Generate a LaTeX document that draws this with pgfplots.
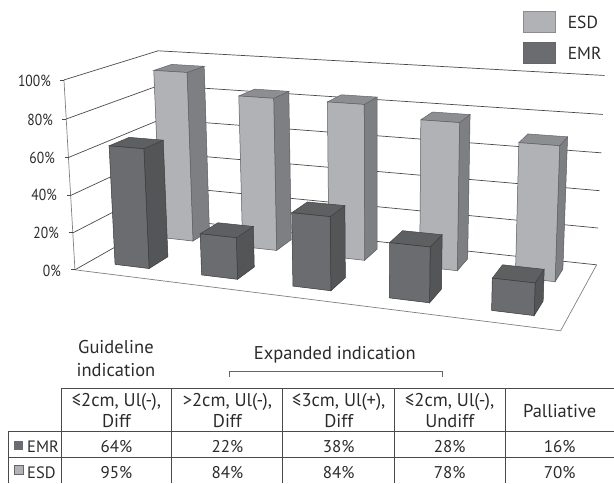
\documentclass[border=0pt]{standalone}
\usepackage{pgfplots}
\pgfplotsset{compat=1.18}
\usepackage{fontspec}
\setmainfont{PT Sans}
\definecolor{esdfront}{HTML}{B1B2B6}
\definecolor{esdside}{HTML}{7E7F83}
\definecolor{esdtop}{HTML}{8D8E91}
\definecolor{emrfront}{HTML}{6B6C70}
\definecolor{emrside}{HTML}{545557}
\definecolor{emrtop}{HTML}{5E5F61}
\definecolor{txt}{HTML}{2B2B2B}
\definecolor{rule}{HTML}{4A4A4A}

% projection of (u along categories, v into depth, w = value/100) on the picture
\newcommand{\corner}[4]{%
  \pgfmathsetmacro{\den}{-0.13246*#2+0.13604*#3-0.035*#4+1}%
  \expandafter\pgfmathsetmacro\csname x#1\endcsname{(411.69*#2+112.45*#3-13.24*#4+75)/\den}%
  \expandafter\pgfmathsetmacro\csname y#1\endcsname{(17.16*#2-21.21*#3-192.8*#4+270)/\den}%
}
% #1 u start, #2 v start, #3 value, #4 front, #5 side, #6 top
\newcommand{\drawbar}[6]{%
  \pgfmathsetmacro{\uu}{#1+0.08}%
  \pgfmathsetmacro{\vv}{#2+0.21}%
  \pgfmathsetmacro{\ww}{#3/100}%
  \corner{a}{#1}{#2}{0}\corner{b}{\uu}{#2}{0}\corner{c}{\uu}{#2}{\ww}\corner{d}{#1}{#2}{\ww}%
  \corner{e}{\uu}{\vv}{0}\corner{f}{\uu}{\vv}{\ww}\corner{g}{#1}{\vv}{\ww}%
  \addplot[fill=#5,draw=#5!70!black,line width=0.5pt] coordinates {(\xb,\yb) (\xe,\ye) (\xf,\yf) (\xc,\yc)} -- cycle;
  \addplot[fill=#6,draw=#6!70!black,line width=0.5pt] coordinates {(\xd,\yd) (\xc,\yc) (\xf,\yf) (\xg,\yg)} -- cycle;
  \addplot[fill=#4,draw=#4!50!black,line width=0.5pt] coordinates {(\xa,\ya) (\xb,\yb) (\xc,\yc) (\xd,\yd)} -- cycle;
}
\newcommand{\gridline}[1]{%
  \corner{a}{0}{0}{#1}\corner{b}{0}{1}{#1}\corner{e}{1}{1}{#1}%
  \addplot[draw=rule,line width=0.7pt] coordinates {(\xa,\ya) (\xb,\yb) (\xe,\ye)};
}

\begin{document}
\begin{tikzpicture}
\path (0,0) rectangle (614pt,483pt);
\begin{axis}[
  at={(0,0)}, anchor=south west,
  width=614pt, height=483pt, scale only axis,
  xmin=0, xmax=614, ymin=0, ymax=483, y dir=reverse,
  hide axis, clip=false,
]
% floor and walls
\addplot[draw=black!50,line width=0.7pt] coordinates {(75,270) (561,331) (597,265)};
\addplot[draw=black!50,line width=0.7pt] coordinates {(75,270) (64,80)};
\gridline{0}\gridline{0.2}\gridline{0.4}\gridline{0.6}\gridline{0.8}\gridline{1}
% ESD row
\drawbar{0.06}{0.66}{95}{esdfront}{esdside}{esdtop}
\drawbar{0.26}{0.66}{84}{esdfront}{esdside}{esdtop}
\drawbar{0.46}{0.66}{84}{esdfront}{esdside}{esdtop}
\drawbar{0.66}{0.66}{78}{esdfront}{esdside}{esdtop}
\drawbar{0.86}{0.66}{70}{esdfront}{esdside}{esdtop}
% EMR row
\drawbar{0.06}{0.15}{64}{emrfront}{emrside}{emrtop}
\drawbar{0.26}{0.15}{22}{emrfront}{emrside}{emrtop}
\drawbar{0.46}{0.15}{38}{emrfront}{emrside}{emrtop}
\drawbar{0.66}{0.15}{28}{emrfront}{emrside}{emrtop}
\drawbar{0.86}{0.15}{16}{emrfront}{emrside}{emrtop}
\end{axis}

% labels, legend and table, in picture units from the top left
\begin{scope}[x=1pt,y=-1pt,yshift=483pt,every node/.style={text=txt,font=\fontsize{18.5}{20}\selectfont}]
\foreach \lab/\xx/\yy in {100/51/81,80/53/120,60/55/158,40/57/195,20/59/233,0/61/271}
  \node[anchor=east,inner sep=0pt,xscale=0.85,font=\fontsize{16}{18}\selectfont] at (\xx,\yy) {\lab\%};
\foreach \xx/\yy in {64/80,66/119,69/157,71/195,73/233,75/270}
  \draw[rule,line width=0.7pt] (\xx-4,\yy) -- (\xx,\yy);
% legend
\fill[esdfront] (523.5,11) rectangle (555.5,32);
\draw[black!45] (523.5,11) rectangle (555.5,32);
\fill[emrfront] (523.5,42) rectangle (555.5,63);
\draw[black!60] (523.5,42) rectangle (555.5,63);
\node[anchor=west,inner sep=0pt,font=\fontsize{17.5}{19}\selectfont] at (568,22) {ESD};
\node[anchor=west,inner sep=0pt,font=\fontsize{17.5}{19}\selectfont] at (568,53) {EMR};
% headings
\node at (116,347) {Guideline};
\node at (116,370) {indication};
\node at (335,355) {Expanded indication};
\draw[black!60,line width=0.7pt] (229,377) -- (229,371.5) -- (443,371.5) -- (443,377);
% table
\draw[rule,line width=0.8pt]
  (61.5,389) -- (614,389)
  (8,432) -- (614,432)
  (8,458) -- (614,458)
  (8,432) -- (8,483)
  (61.5,389) -- (61.5,483)
  (172,389) -- (172,483)
  (283,389) -- (283,483)
  (394.5,389) -- (394.5,483)
  (505.5,389) -- (505.5,483);
\foreach \xx/\top/\bot in {116.5/{≤2cm, Ul(-),}/Diff,227.5/{>2cm, Ul(-),}/Diff,339/{≤3cm, Ul(+),}/Diff,450/{≤2cm, Ul(-),}/Undiff}{
  \node at (\xx,402) {\top};
  \node at (\xx,421) {\bot};
}
\node at (560,411) {Palliative};
\foreach \xx/\emr/\esd in {116.5/64/95,227.5/22/84,339/38/84,450/28/78,560/16/70}{
  \node[font=\fontsize{17}{19}\selectfont] at (\xx,447) {\emr\%};
  \node[font=\fontsize{17}{19}\selectfont] at (\xx,473) {\esd\%};
}
\fill[emrfront] (14,441) rectangle (23,450);
\fill[esdfront] (14,466) rectangle (23,475);
\draw[black!60] (14,466) rectangle (23,475);
\node[anchor=west,inner sep=0pt,font=\fontsize{16.5}{18}\selectfont] at (27,447) {EMR};
\node[anchor=west,inner sep=0pt,font=\fontsize{16.5}{18}\selectfont] at (27,473) {ESD};
\end{scope}
\end{tikzpicture}
\end{document}
